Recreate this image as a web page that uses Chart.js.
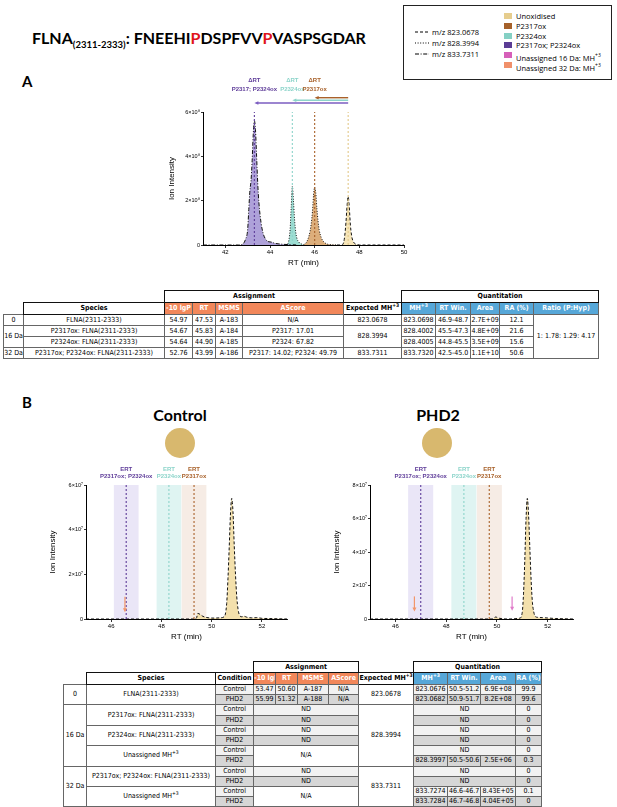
<!DOCTYPE html>
<html><head><meta charset="utf-8">
<script src="https://cdn.jsdelivr.net/npm/chart.js@4.4.1/dist/chart.umd.min.js"></script>
<style>
html,body{margin:0;padding:0;background:#fff;}
body{width:617px;height:807px;position:relative;overflow:hidden;font-family:"Liberation Sans",Arial,sans-serif;color:#000;}
.abs{position:absolute;}
#title{left:32px;top:28px;font:bold 16px Lato,"Open Sans",sans-serif;white-space:nowrap;}
#title sub{font-size:9.5px;vertical-align:-4px;}
#title .r{color:#e0141b;}
.panel{font:bold 15px Lato,"Open Sans",sans-serif;}
.cond{font:bold 16px Lato,"Open Sans",sans-serif;text-align:center;width:100px;}
.circ{width:30px;height:30px;border-radius:50%;background:#d8b86e;}
#legend{left:403px;top:5px;width:207px;height:73px;border:1.5px solid #222;font-family:"Open Sans",sans-serif;}
#legend .it{position:absolute;white-space:nowrap;font-size:7.5px;line-height:8px;}
#legend .sq{position:absolute;width:8px;height:6px;}
#legend svg{position:absolute;}
table.t{position:absolute;border-collapse:collapse;table-layout:fixed;font-family:"Liberation Sans Narrow","DejaVu Sans Condensed",sans-serif;font-size:7px;}
table.t td{border:1px solid #666;text-align:center;padding:0;white-space:nowrap;overflow:hidden;line-height:1;}
table.t td.n{border:none;}
table.t td.g{border:1.5px solid #111;font-weight:bold;background:#fff;}
table.t td.o{background:#f2875a;color:#fff;font-weight:bold;}
table.t td.b{background:#56a7d8;color:#fff;font-weight:bold;}
table.t td.c{background:#f2f2f2;}
table.t td.p{background:#d6d6d6;}
table.t sup{font-size:5px;line-height:0;vertical-align:3px;}
.cw{position:absolute;}
</style></head>
<body>
<div id="title" class="abs">FLNA<sub>(2311-2333)</sub>: FNEEHI<span class="r">P</span>DSPFVV<span class="r">P</span>VASPSGDAR</div>

<div id="legend" class="abs">
  <svg style="left:11px;top:24px" width="14" height="4"><line x1="0" y1="2" x2="14" y2="2" stroke="#000" stroke-width="1" stroke-dasharray="3,2"/></svg>
  <div class="it" style="left:28px;top:22px">m/z 823.0678</div>
  <svg style="left:11px;top:35px" width="14" height="4"><line x1="0" y1="2" x2="14" y2="2" stroke="#000" stroke-width="1" stroke-dasharray="1,1.6"/></svg>
  <div class="it" style="left:28px;top:33px">m/z 828.3994</div>
  <svg style="left:11px;top:46px" width="14" height="4"><line x1="0" y1="2" x2="14" y2="2" stroke="#000" stroke-width="1" stroke-dasharray="4,1.6,1,1.6"/></svg>
  <div class="it" style="left:28px;top:44px">m/z 833.7311</div>

  <div class="sq" style="left:100px;top:7px;background:#e6cd8e"></div><div class="it" style="left:112px;top:6px">Unoxidised</div>
  <div class="sq" style="left:100px;top:17px;background:#a5612b"></div><div class="it" style="left:112px;top:16px">P2317ox</div>
  <div class="sq" style="left:100px;top:26.5px;background:#85d0c4"></div><div class="it" style="left:112px;top:25.5px">P2324ox</div>
  <div class="sq" style="left:100px;top:36px;background:#5b3c95"></div><div class="it" style="left:112px;top:35px">P2317ox; P2324ox</div>
  <div class="sq" style="left:100px;top:46px;background:#d660b9"></div><div class="it" style="left:112px;top:45px">Unassigned 16 Da: MH<sup style="font-size:5px">+3</sup></div>
  <div class="sq" style="left:100px;top:56px;background:#f0906a"></div><div class="it" style="left:112px;top:55px">Unassigned 32 Da: MH<sup style="font-size:5px">+3</sup></div>
</div>

<div class="abs panel" style="left:22px;top:72px">A</div>
<div class="abs panel" style="left:22px;top:393px">B</div>
<div class="abs cond" style="left:130px;top:405px">Control</div>
<div class="abs cond" style="left:388px;top:405px">PHD2</div>
<div class="abs circ" style="left:165px;top:428px"></div>
<div class="abs circ" style="left:422px;top:428px"></div>

<div class="cw" style="left:160px;top:72px;width:260px;height:201px"><canvas id="cA"></canvas></div>
<div class="cw" style="left:43px;top:455px;width:258px;height:192px"><canvas id="cC"></canvas></div>
<div class="cw" style="left:327px;top:455px;width:259px;height:192px"><canvas id="cP"></canvas></div>

<table class="t" style="left:3px;top:290px;width:595px">
<colgroup><col style="width:20px"><col style="width:141px"><col style="width:28px"><col style="width:23px"><col style="width:27px"><col style="width:101px"><col style="width:58px"><col style="width:34px"><col style="width:35px"><col style="width:29px"><col style="width:34px"><col style="width:65px"></colgroup>
<tr style="height:12px"><td class="n" colspan="2"></td><td class="g" colspan="4">Assignment</td><td class="n"></td><td class="g" colspan="5">Quantitation</td></tr>
<tr style="height:12px"><td class="n"></td><td class="g">Species</td><td class="o">-10 lgP</td><td class="o">RT</td><td class="o">MSMS</td><td class="o">AScore</td><td class="g">Expected MH<sup>+3</sup></td><td class="b">MH<sup>+3</sup></td><td class="b">RT Win.</td><td class="b">Area</td><td class="b">RA (%)</td><td class="b">Ratio (P:Hyp)</td></tr>
<tr style="height:11px"><td>0</td><td>FLNA(2311-2333)</td><td>54.97</td><td>47.53</td><td>A-183</td><td>N/A</td><td>823.0678</td><td>823.0698</td><td>46.9-48.7</td><td>2.7E+09</td><td>12.1</td><td rowspan="4">1: 1.78: 1.29: 4.17</td></tr>
<tr style="height:11px"><td rowspan="2">16 Da</td><td>P2317ox: FLNA(2311-2333)</td><td>54.67</td><td>45.83</td><td>A-184</td><td>P2317: 17.01</td><td rowspan="2">828.3994</td><td>828.4002</td><td>45.5-47.3</td><td>4.8E+09</td><td>21.6</td></tr>
<tr style="height:11px"><td>P2324ox: FLNA(2311-2333)</td><td>54.64</td><td>44.90</td><td>A-185</td><td>P2324: 67.82</td><td>828.4005</td><td>44.8-45.5</td><td>3.5E+09</td><td>15.6</td></tr>
<tr style="height:11px"><td>32 Da</td><td>P2317ox; P2324ox: FLNA(2311-2333)</td><td>52.76</td><td>43.99</td><td>A-186</td><td>P2317: 14.02; P2324: 49.79</td><td>833.7311</td><td>833.7320</td><td>42.5-45.0</td><td>1.1E+10</td><td>50.6</td></tr>
</table>

<table class="t" style="left:63px;top:661px;width:478px">
<colgroup><col style="width:23px"><col style="width:129px"><col style="width:38px"><col style="width:22px"><col style="width:22px"><col style="width:31px"><col style="width:30px"><col style="width:55px"><col style="width:34px"><col style="width:33px"><col style="width:35px"><col style="width:26px"></colgroup>
<tr style="height:11px"><td class="n" colspan="3"></td><td class="g" colspan="4">Assignment</td><td class="n"></td><td class="g" colspan="4">Quantitation</td></tr>
<tr style="height:12px"><td class="n"></td><td class="g">Species</td><td class="g">Condition</td><td class="o">-10 lgP</td><td class="o">RT</td><td class="o">MSMS</td><td class="o">AScore</td><td class="g">Expected MH<sup>+3</sup></td><td class="b">MH<sup>+3</sup></td><td class="b">RT Win.</td><td class="b">Area</td><td class="b">RA (%)</td></tr>
<tr style="height:10.2px"><td rowspan="2">0</td><td rowspan="2">FLNA(2311-2333)</td><td class="c">Control</td><td class="c">53.47</td><td class="c">50.60</td><td class="c">A-187</td><td class="c">N/A</td><td rowspan="2">823.0678</td><td class="c">823.0676</td><td class="c">50.5-51.2</td><td class="c">6.9E+08</td><td class="c">99.9</td></tr>
<tr style="height:10.2px"><td class="p">PHD2</td><td class="p">55.99</td><td class="p">51.32</td><td class="p">A-188</td><td class="p">N/A</td><td class="p">823.0682</td><td class="p">50.9-51.7</td><td class="p">8.2E+08</td><td class="p">99.6</td></tr>
<tr style="height:10.2px"><td rowspan="6">16 Da</td><td rowspan="2">P2317ox: FLNA(2311-2333)</td><td class="c">Control</td><td class="c" colspan="4">ND</td><td rowspan="6">828.3994</td><td class="c" colspan="3">ND</td><td class="c">0</td></tr>
<tr style="height:10.2px"><td class="p">PHD2</td><td class="p" colspan="4">ND</td><td class="p" colspan="3">ND</td><td class="p">0</td></tr>
<tr style="height:10.2px"><td rowspan="2">P2324ox: FLNA(2311-2333)</td><td class="c">Control</td><td class="c" colspan="4">ND</td><td class="c" colspan="3">ND</td><td class="c">0</td></tr>
<tr style="height:10.2px"><td class="p">PHD2</td><td class="p" colspan="4">ND</td><td class="p" colspan="3">ND</td><td class="p">0</td></tr>
<tr style="height:10.2px"><td rowspan="2">Unassigned MH<sup>+3</sup></td><td class="c">Control</td><td colspan="4" rowspan="2">N/A</td><td class="c" colspan="3">ND</td><td class="c">0</td></tr>
<tr style="height:10.2px"><td class="p">PHD2</td><td class="p">828.3997</td><td class="p">50.5-50.6</td><td class="p">2.5E+06</td><td class="p">0.3</td></tr>
<tr style="height:10.2px"><td rowspan="4">32 Da</td><td rowspan="2">P2317ox; P2324ox: FLNA(2311-2333)</td><td class="c">Control</td><td class="c" colspan="4">ND</td><td rowspan="4">833.7311</td><td class="c" colspan="3">ND</td><td class="c">0</td></tr>
<tr style="height:10.2px"><td class="p">PHD2</td><td class="p" colspan="4">ND</td><td class="p" colspan="3">ND</td><td class="p">0</td></tr>
<tr style="height:10.2px"><td rowspan="2">Unassigned MH<sup>+3</sup></td><td class="c">Control</td><td colspan="4" rowspan="2">N/A</td><td class="c">833.7274</td><td class="c">46.6-46.7</td><td class="c">8.43E+05</td><td class="c">0.1</td></tr>
<tr style="height:10.2px"><td class="p">PHD2</td><td class="p">833.7284</td><td class="p">46.7-46.8</td><td class="p">4.04E+05</td><td class="p">0</td></tr>
</table>

<script>
// ---------- Panel A data ----------
const xTicksA = [42, 44, 46, 48, 50];
const yTicksA = [0, 2e8, 4e8, 6e8];
const yTickLabelsA = ['0', '2×10⁸', '4×10⁸', '6×10⁸'];

const rtA833 = [41.0, 42.6, 42.8, 42.9, 43.0, 43.05, 43.1, 43.15, 43.2, 43.25, 43.3, 43.35, 43.4, 43.45, 43.5, 43.6, 43.7, 43.8, 43.9, 44.0, 44.1, 44.2, 44.4, 44.6, 44.8, 45.0, 45.2];
const intA833 = [0, 0, 0.06e8, 0.25e8, 0.7e8, 1.6e8, 2.45e8, 2.9e8, 3.8e8, 5.0e8, 5.6e8, 5.2e8, 4.0e8, 2.8e8, 1.95e8, 1.0e8, 0.5e8, 0.27e8, 0.16e8, 0.14e8, 0.12e8, 0.08e8, 0.05e8, 0.03e8, 0.02e8, 0.01e8, 0];

const rtA828a = [44.7, 44.8, 44.85, 44.9, 44.95, 45.0, 45.05, 45.1, 45.15, 45.2, 45.3, 45.4, 45.5];
const intA828a = [0, 0.06e8, 0.25e8, 0.7e8, 1.7e8, 2.65e8, 2.0e8, 1.15e8, 0.6e8, 0.32e8, 0.12e8, 0.05e8, 0.02e8];

const rtA828b = [45.5, 45.6, 45.7, 45.8, 45.85, 45.9, 45.95, 46.0, 46.05, 46.1, 46.15, 46.2, 46.3, 46.4, 46.5, 46.6, 46.8, 47.0];
const intA828b = [0.02e8, 0.08e8, 0.27e8, 0.65e8, 1.0e8, 1.5e8, 2.25e8, 2.6e8, 2.35e8, 1.65e8, 1.1e8, 0.7e8, 0.32e8, 0.15e8, 0.07e8, 0.03e8, 0.01e8, 0];

const rtA823 = [47.0, 47.2, 47.3, 47.35, 47.4, 47.45, 47.5, 47.55, 47.6, 47.65, 47.7, 47.8, 47.9, 48.0, 50.0];
const intA823 = [0, 0, 0.12e8, 0.45e8, 1.0e8, 1.75e8, 2.18e8, 1.7e8, 0.9e8, 0.45e8, 0.22e8, 0.06e8, 0.02e8, 0, 0];

const markRtA = [43.3, 45.0, 46.0, 47.5];     // purple, teal, brown, tan
const deltaFromA = 47.5;

// ---------- Panel B data ----------
const xTicksB = [46, 48, 50, 52];
const yTicksCtrl = [0, 2e7, 4e7, 6e7];
const yTickLabelsCtrl = ['0', '2×10⁷', '4×10⁷', '6×10⁷'];
const yTicksPhd = [0, 2e7, 4e7, 6e7, 8e7];
const yTickLabelsPhd = ['0', '2×10⁷', '4×10⁷', '6×10⁷', '8×10⁷'];

const rtC823 = [45.0, 49.3, 49.4, 49.45, 49.55, 49.65, 49.75, 49.9, 50.1, 50.3, 50.5, 50.6, 50.65, 50.7, 50.75, 50.8, 50.85, 50.9, 50.95, 51.0, 51.05, 51.1, 51.2, 51.3, 51.4, 51.6, 51.8, 52.0, 52.3, 53.0];
const intC823 = [0, 0, 0.05e7, 0.25e7, 0.2e7, 0.12e7, 0.08e7, 0.05e7, 0.04e7, 0.05e7, 0.1e7, 0.7e7, 1.8e7, 3.2e7, 4.7e7, 5.4e7, 4.8e7, 3.3e7, 2.0e7, 1.0e7, 0.45e7, 0.2e7, 0.1e7, 0.12e7, 0.08e7, 0.05e7, 0.06e7, 0.03e7, 0.02e7, 0];

const rtP823 = [45.0, 49.85, 49.95, 50.05, 50.2, 50.4, 50.9, 51.0, 51.05, 51.1, 51.15, 51.2, 51.25, 51.3, 51.35, 51.4, 51.45, 51.5, 51.6, 51.8, 52.0, 52.3, 53.0];
const intP823 = [0, 0, 0.12e7, 0.06e7, 0.02e7, 0, 0.05e7, 0.4e7, 1.5e7, 3.5e7, 6.0e7, 7.2e7, 6.2e7, 4.2e7, 2.3e7, 1.0e7, 0.45e7, 0.18e7, 0.1e7, 0.08e7, 0.06e7, 0.03e7, 0];

// expected RT (dashed line) and RT windows (shaded bands): purple, teal, brown
const ertCtrl = [46.6, 48.3, 49.3];
const winLoCtrl = [46.1, 47.8, 48.8];
const winHiCtrl = [47.1, 48.8, 49.8];
const ertPhd = [47.0, 48.7, 49.7];
const winLoPhd = [46.5, 48.2, 49.2];
const winHiPhd = [47.5, 49.2, 50.2];

// unassigned-peak arrows (RT, top, bottom)
const arrowRtCtrl = [46.55];
const arrowTopCtrl = [1.0e7];
const arrowBotCtrl = [0.3e7];
const arrowRtPhd = [46.75, 50.6];
const arrowTopPhd = [1.35e7, 1.35e7];
const arrowBotPhd = [0.45e7, 0.5e7];

// ---------- styles ----------
const FONT = '"Liberation Sans", Arial, sans-serif';
const C_PURPLE = '#5e3c99', C_TEAL = '#8cd4ca', C_BROWN = '#a8612a', C_TAN = '#e3c98a';
const C_ORANGE = '#f2966a', C_PINK = '#e07bc9';
const markColorsA = [C_PURPLE, C_TEAL, C_BROWN, C_TAN];
const bandColors = ['rgba(180,165,225,0.28)', 'rgba(150,220,212,0.30)', 'rgba(228,198,175,0.33)'];
const lineColorsB = [C_PURPLE, C_TEAL, C_BROWN];
const DASH823 = [3, 2], DASH828 = [1, 1.6], DASH833 = [4, 1.6, 1, 1.6];

const pts = (rt, v) => rt.map((x, i) => ({x: x, y: v[i]}));

function trace(rt, v, dash, fill) {
  return {data: pts(rt, v), borderColor: '#111', borderWidth: 1, borderDash: dash,
    backgroundColor: fill, fill: 'origin', pointRadius: 0, cubicInterpolationMode: 'monotone', order: 1};
}
function vline(rt, ymax, color) {
  return {data: [{x: rt, y: 0}, {x: rt, y: ymax}], borderColor: color, borderWidth: 1.1,
    borderDash: [2, 2], pointRadius: 0, fill: false, order: 0};
}
function band(lo, hi, ymax, color) {
  return {data: [{x: lo, y: ymax}, {x: hi, y: ymax}], borderWidth: 0, borderColor: 'rgba(0,0,0,0)',
    backgroundColor: color, fill: 'origin', pointRadius: 0, order: 5};
}

const annot = {
  id: 'annot',
  afterDraw(chart, args, o) {
    const {ctx, chartArea} = chart;
    const x = chart.scales.x, y = chart.scales.y;
    ctx.save();
    (o.labels || []).forEach(l => {
      const px = x.getPixelForValue(l.rt);
      ctx.fillStyle = l.color;
      ctx.font = 'bold 6px ' + FONT;
      ctx.textAlign = 'center';
      ctx.textBaseline = 'middle';
      ctx.fillText(l.t1, px, chartArea.top + l.dy1);
      ctx.fillText(l.t2, px, chartArea.top + l.dy2);
    });
    (o.hArrows || []).forEach(a => {
      const x1 = x.getPixelForValue(a.from), x2 = x.getPixelForValue(a.to), yy = chartArea.top + a.dy;
      ctx.strokeStyle = a.color; ctx.fillStyle = a.color; ctx.lineWidth = 1.4;
      ctx.beginPath(); ctx.moveTo(x1, yy); ctx.lineTo(x2 + 3, yy); ctx.stroke();
      ctx.beginPath(); ctx.moveTo(x2, yy); ctx.lineTo(x2 + 4, yy - 1.8); ctx.lineTo(x2 + 4, yy + 1.8); ctx.closePath(); ctx.fill();
    });
    (o.vArrows || []).forEach(a => {
      const px = x.getPixelForValue(a.rt), y1 = y.getPixelForValue(a.top), y2 = y.getPixelForValue(a.bot);
      ctx.strokeStyle = a.color; ctx.fillStyle = a.color; ctx.lineWidth = 1.2;
      ctx.beginPath(); ctx.moveTo(px, y1); ctx.lineTo(px, y2 - 3); ctx.stroke();
      ctx.beginPath(); ctx.moveTo(px, y2); ctx.lineTo(px - 2, y2 - 4); ctx.lineTo(px + 2, y2 - 4); ctx.closePath(); ctx.fill();
    });
    ctx.restore();
  }
};

function makeChart(id, datasets, xmin, xmax, xt, yt, ytl, pad, titlePadY, annotOpts) {
  return new Chart(document.getElementById(id), {
    type: 'line',
    data: {datasets: datasets},
    plugins: [annot],
    options: {
      responsive: true, maintainAspectRatio: false, animation: false,
      layout: {padding: pad},
      plugins: {legend: {display: false}, tooltip: {enabled: false}, annot: annotOpts},
      scales: {
        x: {type: 'linear', min: xmin, max: xmax,
          afterBuildTicks: s => { s.ticks = xt.map(v => ({value: v})); },
          afterFit: s => { s.height = 28; },
          ticks: {font: {size: 6, family: FONT}, color: '#000', padding: 1, maxRotation: 0, autoSkip: false,
            callback: v => String(v)},
          grid: {display: true, drawOnChartArea: false, drawTicks: true, tickLength: 3, color: '#000', lineWidth: 0.8},
          border: {display: true, color: '#000', width: 1},
          title: {display: true, text: 'RT (min)', font: {size: 8, family: FONT}, color: '#000', padding: {top: 0, bottom: 5}}
        },
        y: {type: 'linear', min: yt[0], max: yt[yt.length - 1],
          afterBuildTicks: s => { s.ticks = yt.map(v => ({value: v})); },
          afterFit: s => { s.width = 43; },
          ticks: {font: {size: 5.5, family: FONT}, color: '#000', padding: 1, autoSkip: false,
            callback: (v) => ytl[yt.indexOf(v)]},
          grid: {display: true, drawOnChartArea: false, drawTicks: true, tickLength: 2, color: '#000', lineWidth: 0.8},
          border: {display: true, color: '#000', width: 1},
          title: {display: true, text: 'Ion Intensity', font: {size: 8, family: FONT}, color: '#000', padding: {top: titlePadY, bottom: 0}}
        }
      }
    }
  });
}

// ---------- Chart A ----------
const yMaxA = yTicksA[yTicksA.length - 1];
const dsA = [
  ...markRtA.map((rt, i) => vline(rt, yMaxA, markColorsA[i])),
  trace(rtA833, intA833, DASH833, 'rgba(160,145,210,0.85)'),
  trace(rtA828a, intA828a, DASH828, 'rgba(140,215,202,0.85)'),
  trace(rtA828b, intA828b, DASH828, 'rgba(214,160,100,0.85)'),
  trace(rtA823, intA823, DASH823, 'rgba(246,228,180,0.95)')
];
makeChart('cA', dsA, 41, 50, xTicksA, yTicksA, yTickLabelsA, {top: 40, right: 16, left: 0, bottom: 0}, 7, {
  labels: [
    {rt: markRtA[0], t1: 'ΔRT', t2: 'P2317; P2324ox', color: C_PURPLE, dy1: -32, dy2: -23},
    {rt: markRtA[1], t1: 'ΔRT', t2: 'P2324ox', color: C_TEAL, dy1: -32, dy2: -23},
    {rt: markRtA[2], t1: 'ΔRT', t2: 'P2317ox', color: C_BROWN, dy1: -32, dy2: -23}
  ],
  hArrows: [
    {from: deltaFromA, to: markRtA[2], dy: -14.3, color: C_BROWN},
    {from: deltaFromA, to: markRtA[1], dy: -11.7, color: C_TEAL},
    {from: deltaFromA, to: markRtA[0], dy: -9, color: '#7b5cc0'}
  ]
});

// ---------- Chart B ----------
function bDatasets(ymax, ert, lo, hi, rt, v) {
  return [
    ...ert.map((r, i) => vline(r, ymax, lineColorsB[i])),
    trace(rt, v, DASH823, 'rgba(242,222,168,0.95)'),
    ...lo.map((l, i) => band(l, hi[i], ymax, bandColors[i]))
  ];
}
function bLabels(ert) {
  return [
    {rt: ert[0], t1: 'ERT', t2: 'P2317ox; P2324ox', color: C_PURPLE, dy1: -16, dy2: -9},
    {rt: ert[1], t1: 'ERT', t2: 'P2324ox', color: C_TEAL, dy1: -16, dy2: -9},
    {rt: ert[2], t1: 'ERT', t2: 'P2317ox', color: C_BROWN, dy1: -16, dy2: -9}
  ];
}
const yMaxC = yTicksCtrl[yTicksCtrl.length - 1];
makeChart('cC', bDatasets(yMaxC, ertCtrl, winLoCtrl, winHiCtrl, rtC823, intC823), 45, 53, xTicksB,
  yTicksCtrl, yTickLabelsCtrl, {top: 30, right: 14, left: 0, bottom: 0}, 5, {
    labels: bLabels(ertCtrl),
    vArrows: arrowRtCtrl.map((r, i) => ({rt: r, top: arrowTopCtrl[i], bot: arrowBotCtrl[i], color: C_ORANGE}))
  });
const yMaxP = yTicksPhd[yTicksPhd.length - 1];
const arrowColorsPhd = [C_ORANGE, C_PINK];
makeChart('cP', bDatasets(yMaxP, ertPhd, winLoPhd, winHiPhd, rtP823, intP823), 45, 53, xTicksB,
  yTicksPhd, yTickLabelsPhd, {top: 30, right: 13, left: 0, bottom: 0}, 5, {
    labels: bLabels(ertPhd),
    vArrows: arrowRtPhd.map((r, i) => ({rt: r, top: arrowTopPhd[i], bot: arrowBotPhd[i], color: arrowColorsPhd[i]}))
  });
</script>
</body></html>
